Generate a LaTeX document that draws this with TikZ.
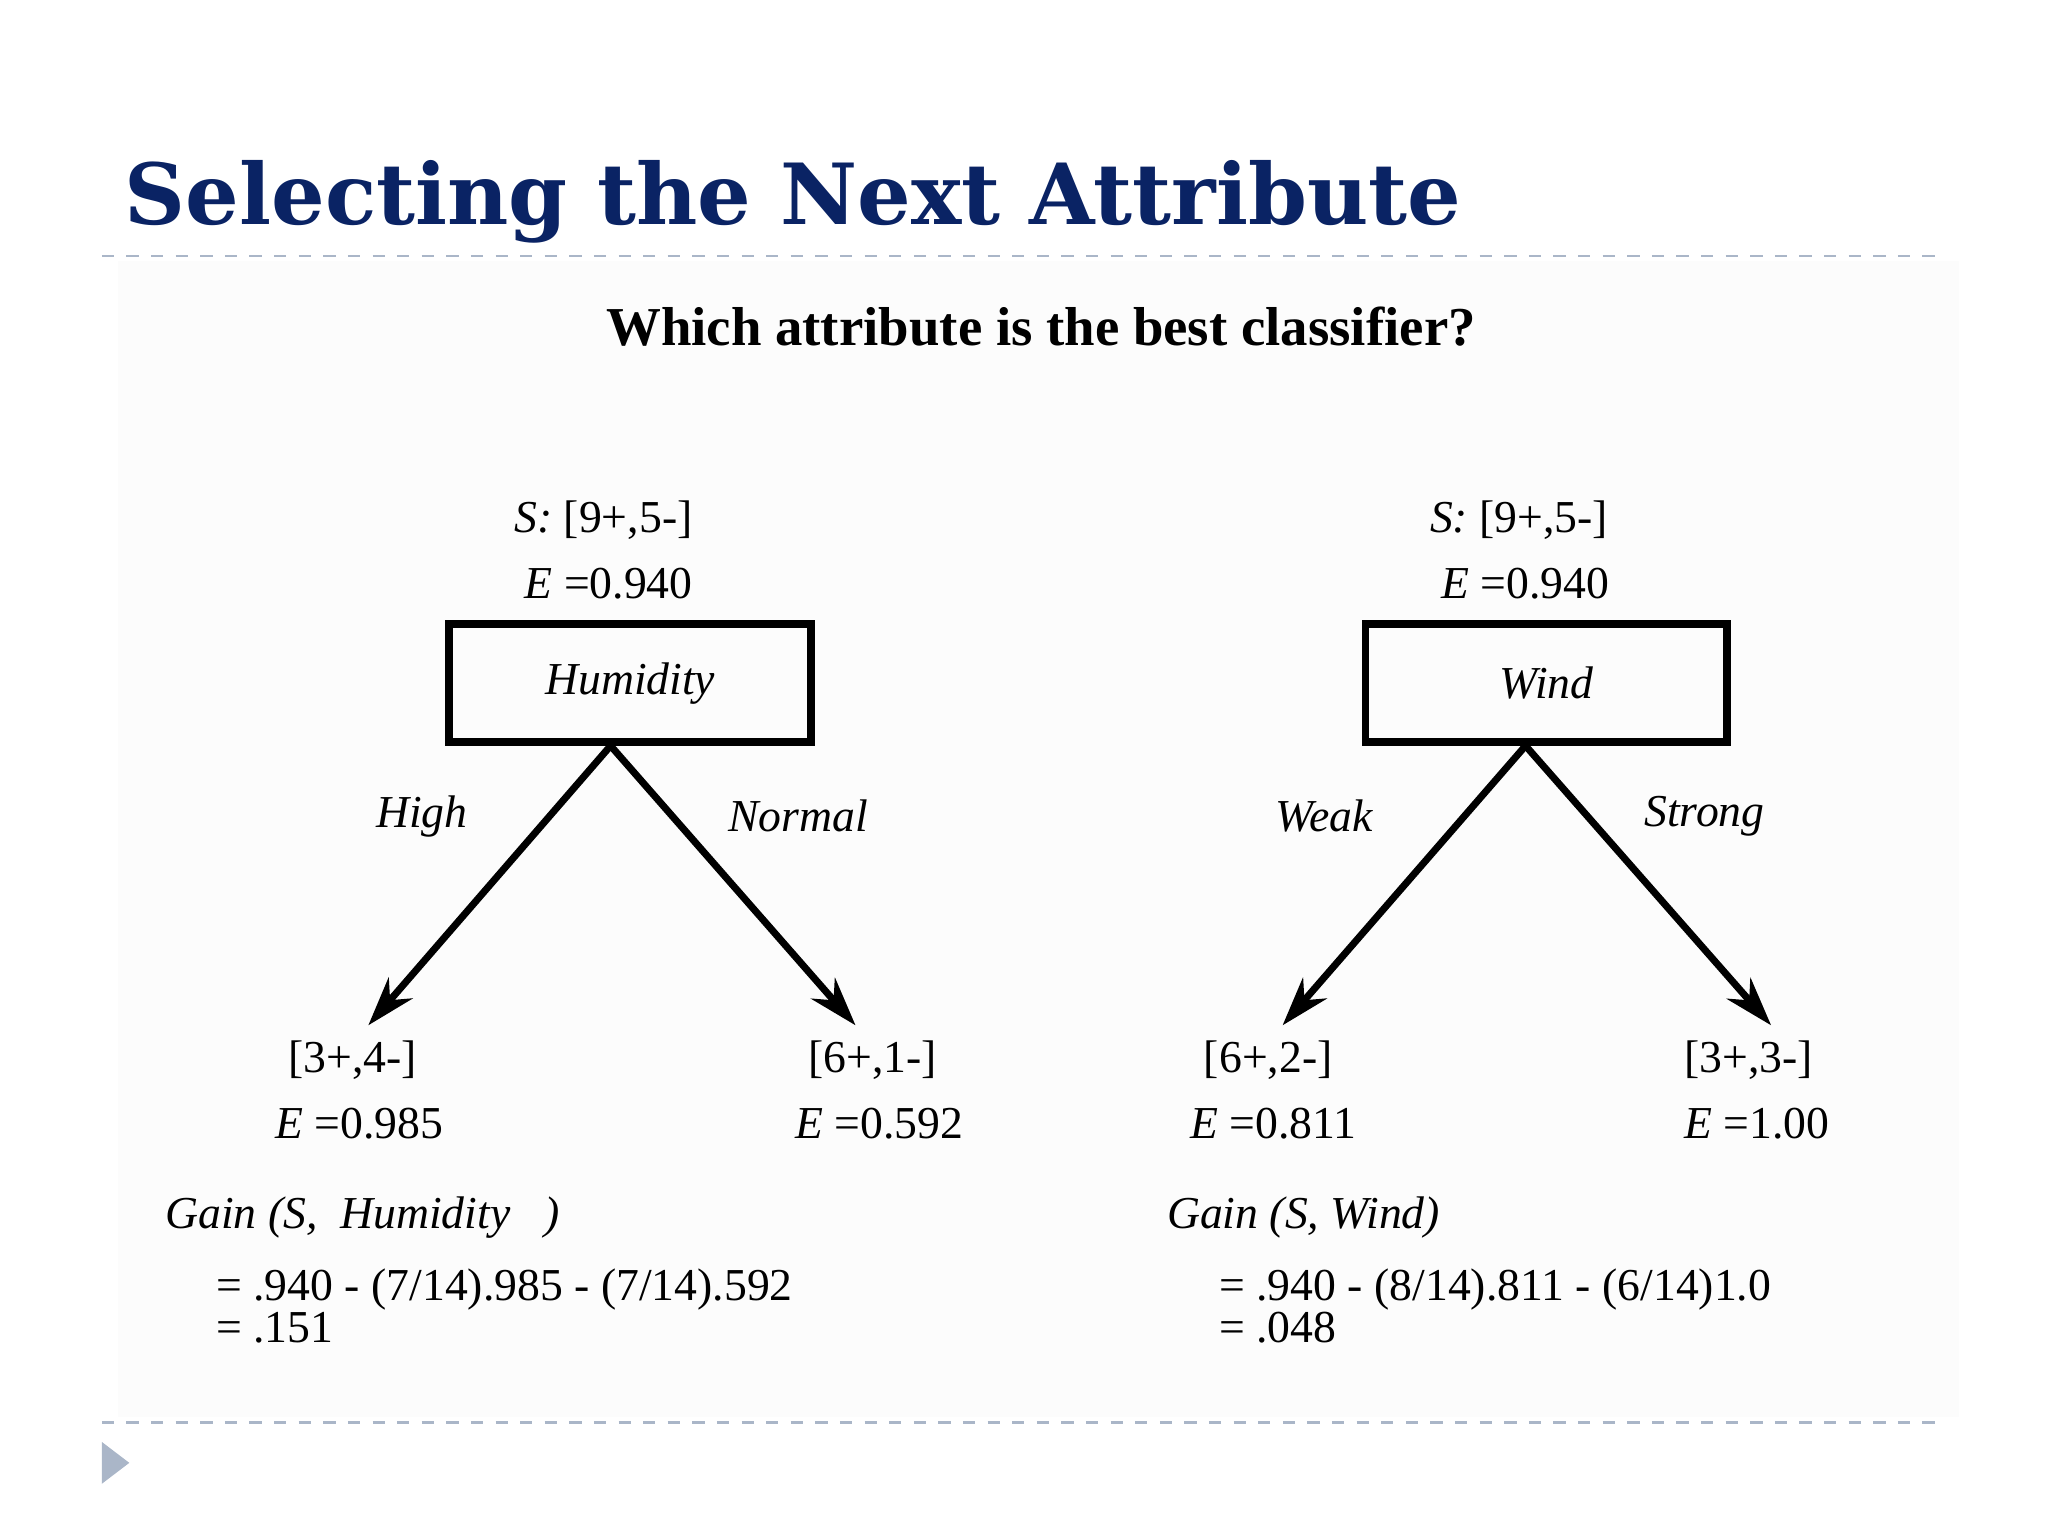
\documentclass[tikz,border=0pt]{standalone}
\usepackage{fontspec}
\setmainfont{Liberation Serif}
\newfontfamily\titlefont{DejaVu Serif}
\usetikzlibrary{arrows.meta}
\definecolor{titleblue}{RGB}{10,35,100}
\definecolor{dashc}{RGB}{170,182,200}
\begin{document}
\begin{tikzpicture}[x=0.01306cm,y=-0.01306cm,
  txt/.style={font=\fontsize{13}{15}\selectfont,inner sep=0pt},
  attr/.style={draw,line width=2.2pt,minimum width=277*0.01306cm,minimum height=90*0.01306cm,font=\fontsize{13}{15}\selectfont\itshape},
  branch/.style={line width=2pt,-{Stealth[length=14pt,width=9pt]}}]
\useasboundingbox (0,0) rectangle (1568,1176);
\fill[gray!2] (90,200) rectangle (1500,1085);
\node[anchor=base west,inner sep=0pt,text=titleblue,font=\titlefont\bfseries\fontsize{24}{28}\selectfont] (title) at (95,172) {Selecting the Next Attribute};
\draw[dashc,line width=0.7pt,dash pattern=on 3.5pt off 3.5pt] (78,196) -- (1490,196);
\draw[dashc,line width=0.7pt,dash pattern=on 3.5pt off 3.5pt] (78,1089) -- (1490,1089);
\fill[dashc] (78,1104) -- (99,1120) -- (78,1136) -- cycle;
\node[font=\bfseries\fontsize{15.6}{18}\selectfont] (sub) at (797,250) {Which attribute is the best classifier?};
% left tree
\node[txt] (ls) at (462,398) {\textit{S:} [9+,5-]};
\node[txt] (le) at (466,447) {\textit{E} =0.940};
\node[attr] (hum) at (482.5,523) {Humidity};
\coordinate (hl) at (282,785); \coordinate (hr) at (655,785);
\draw[branch] (hum.south) ++(-15,0) coordinate (ht) -- (hl);
\draw[branch] (ht) -- (hr);
\node[txt,font=\fontsize{13}{15}\selectfont\itshape] (high) at (323,625) {High};
\node[txt,font=\fontsize{13}{15}\selectfont\itshape] (normal) at (611,625) {Normal};
\node[txt] (l1) at (270,812) {[3+,4-]};
\node[txt] (l1e) at (275,860) {\textit{E} =0.985};
\node[txt] (l2) at (668,812) {[6+,1-]};
\node[txt] (l2e) at (673,860) {\textit{E} =0.592};
\node[txt,anchor=west,font=\fontsize{13}{15}\selectfont\itshape] (lg) at (126,932) {Gain (S,\ \ Humidity\ \ \ )};
\node[txt,anchor=west,align=left] (lc) at (165,1000) {= .940 - (7/14).985 - (7/14).592\\[-3pt]= .151};
% right tree
\node[txt] (rs) at (1163,398) {\textit{S:} [9+,5-]};
\node[txt] (re) at (1168,447) {\textit{E} =0.940};
\node[attr] (wind) at (1184,523) {Wind};
\coordinate (wl) at (982,785); \coordinate (wr) at (1356,785);
\draw[branch] (wind.south) ++(-16,0) coordinate (wt) -- (wl);
\draw[branch] (wt) -- (wr);
\node[txt,font=\fontsize{13}{15}\selectfont\itshape] (weak) at (1014,625) {Weak};
\node[txt,font=\fontsize{13}{15}\selectfont\itshape] (strong) at (1305,625) {Strong};
\node[txt] (r1) at (971,812) {[6+,2-]};
\node[txt] (r1e) at (975,860) {\textit{E} =0.811};
\node[txt] (r2) at (1339,812) {[3+,3-]};
\node[txt] (r2e) at (1345,860) {\textit{E} =1.00};
\node[txt,anchor=west,font=\fontsize{13}{15}\selectfont\itshape] (rg) at (893,932) {Gain (S, Wind)};
\node[txt,anchor=west,align=left] (rc) at (933,1000) {= .940 - (8/14).811 - (6/14)1.0\\[-3pt]= .048};
\end{tikzpicture}
\end{document}
